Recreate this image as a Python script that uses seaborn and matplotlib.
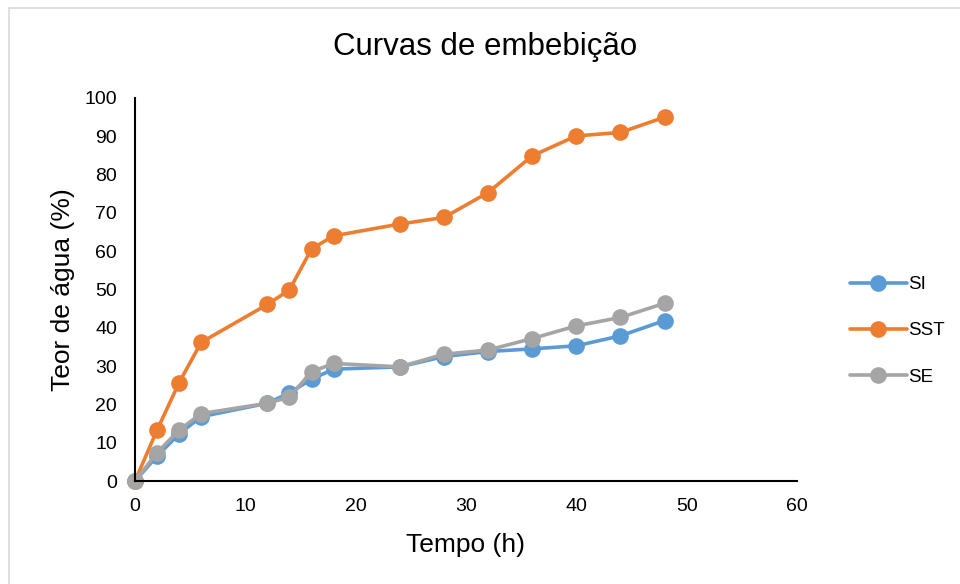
import matplotlib
matplotlib.use("Agg")
import matplotlib.pyplot as plt
from matplotlib.patches import Rectangle
import seaborn as sns
import pandas as pd

# Imbibition time (hours)
tempo = [0, 2, 4, 6, 12, 14, 16, 18, 24, 28, 32, 36, 40, 44, 48]

# Water content (%) per treatment
si = [0, 6.5, 12.3, 16.8, 20.3, 23.0, 26.6, 29.2, 29.8, 32.5, 33.8, 34.5, 35.3, 37.9, 41.9]
sst = [0, 13.3, 25.7, 36.2, 46.1, 49.9, 60.6, 64.0, 67.1, 68.8, 75.3, 84.9, 90.1, 91.0, 95.0]
se = [0, 7.4, 13.3, 17.6, 20.3, 21.9, 28.5, 30.7, 29.8, 33.1, 34.2, 37.2, 40.5, 42.7, 46.4]

series = ["SI", "SST", "SE"]
cores = ["#5B9BD5", "#ED7D31", "#A5A5A5"]

df = pd.concat([
    pd.DataFrame({"Tempo": tempo, "Teor": vals, "Série": name})
    for name, vals in zip(series, [si, sst, se])
])

sns.set_theme(style="white")
plt.rcParams["font.family"] = ["Liberation Sans", "DejaVu Sans"]
plt.rcParams["text.color"] = "black"
plt.rcParams["axes.labelcolor"] = "black"

fig = plt.figure(figsize=(9.6, 5.84), dpi=100)
ax = fig.add_axes([135 / 960, 1 - 481 / 584, (797 - 135) / 960, (481 - 98) / 584])

sns.lineplot(data=df, x="Tempo", y="Teor", hue="Série", hue_order=series,
             palette=cores, marker="o", markersize=12, markeredgewidth=0,
             linewidth=2.6, ax=ax, clip_on=False, sort=False)

ax.set_xlim(0, 60)
ax.set_ylim(0, 100)
ax.set_xticks(range(0, 61, 10))
ax.set_yticks(range(0, 101, 10))
ax.tick_params(axis="both", labelsize=14, length=0, colors="black")
ax.tick_params(axis="y", pad=13)
ax.tick_params(axis="x", pad=12)
for s in ["top", "right"]:
    ax.spines[s].set_visible(False)
for s in ["left", "bottom"]:
    ax.spines[s].set_color("black")
    ax.spines[s].set_linewidth(1.5)

ax.set_xlabel("Tempo (h)", fontsize=19, labelpad=13)
ax.set_ylabel("Teor de água (%)", fontsize=19, labelpad=7)
fig.text(485 / 960, 1 - 47 / 584, "Curvas de embebição", fontsize=22.5,
         ha="center", va="center")

leg = ax.legend(loc="center left", bbox_to_anchor=(1.055, 0.392), frameon=False,
                fontsize=13.5, handlelength=3.0, labelspacing=1.55,
                handletextpad=0.1)

# Chart area border
fig.patches.append(Rectangle((9 / 960, -0.05), 1.1, 1 - 8 / 584 + 0.05,
                             transform=fig.transFigure, fill=False,
                             edgecolor="#D9D9D9", linewidth=1.2))

fig.savefig("out.png", dpi=100)
